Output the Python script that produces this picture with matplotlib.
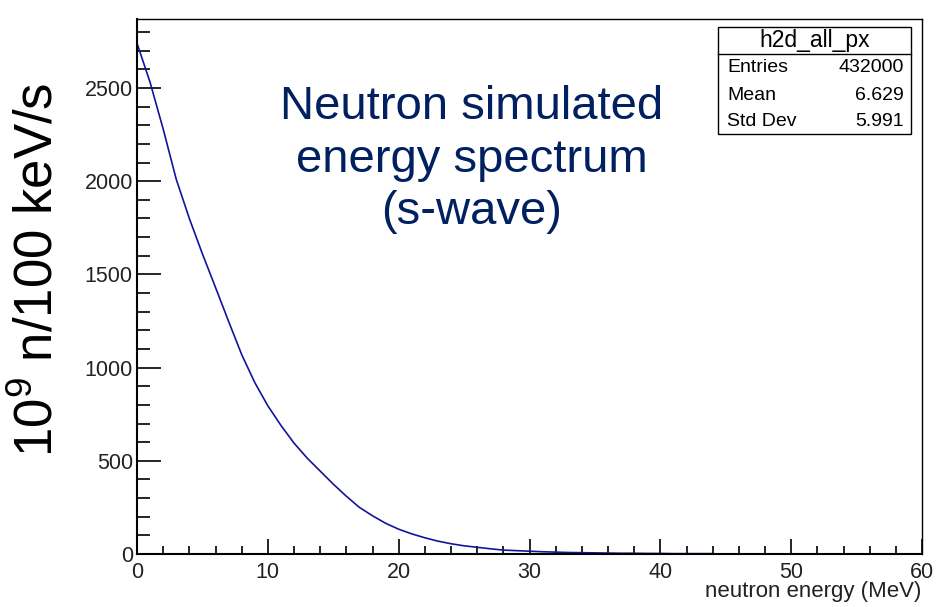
import matplotlib
matplotlib.use('Agg')
import matplotlib.pyplot as plt
from matplotlib.patches import Rectangle
from matplotlib.lines import Line2D
from matplotlib.ticker import MultipleLocator

plt.rcParams['font.family'] = ['Liberation Sans', 'DejaVu Sans']
plt.rcParams['mathtext.default'] = 'regular'

# histogram contents (1 MeV spacing, per 100 keV bin)
energy_mev = list(range(0, 45))
counts = [2740, 2530, 2280, 2010, 1800, 1610, 1430, 1248, 1070, 920,
          795, 690, 595, 515, 445, 375, 310, 250, 205, 165,
          133, 108, 87, 69, 55, 44, 36, 28, 21, 18,
          15, 12, 10, 8, 7, 6, 5, 4, 4, 3,
          3, 2, 2, 2, 2]

stats_title = 'h2d_all_px'
stats_names = ['Entries', 'Mean', 'Std Dev']
stats_values = ['432000', '6.629', '5.991']

W, H = 936, 607
fig = plt.figure(figsize=(W / 100, H / 100), dpi=100)
fig.patch.set_facecolor('white')


def fx(px):
    return px / W


def fy(py):
    # py measured from the top of the picture
    return 1 - py / H


ax = fig.add_axes([fx(137), fy(554), fx(922) - fx(137), fy(19) - fy(554)])
ax.plot(energy_mev, counts, color='#14149a', lw=1.2)

ax.set_xlim(0, 60)
ax.set_ylim(0, 2870)
ax.xaxis.set_major_locator(MultipleLocator(10))
ax.xaxis.set_minor_locator(MultipleLocator(2))
ax.yaxis.set_major_locator(MultipleLocator(500))
ax.yaxis.set_minor_locator(MultipleLocator(100))
ax.tick_params(axis='x', which='major', direction='in', length=11, width=1.2,
               labelsize=15.5, pad=6, top=False, labelcolor='#222222')
ax.tick_params(axis='x', which='minor', direction='in', length=5.5, width=1.2, top=False)
ax.tick_params(axis='y', which='major', direction='in', length=17, width=1.2,
               labelsize=15.5, pad=3, right=False, labelcolor='#222222')
ax.tick_params(axis='y', which='minor', direction='in', length=9, width=1.2, right=False)
for side in ['left', 'bottom']:
    ax.spines[side].set_linewidth(1.5)
for side in ['top', 'right']:
    ax.spines[side].set_linewidth(1.0)

# x axis title, right aligned (ROOT style)
fig.text(fx(921), fy(592), 'neutron energy (MeV)', ha='right', va='center',
         fontsize=16, color='#222222')

# y axis title
fig.text(fx(38), fy(270), r'10$^{9}$ n/100 keV/s', rotation=90,
         ha='center', va='center', fontsize=38, color='black')

# annotation text
fig.text(fx(472), fy(160), 'Neutron simulated\nenergy spectrum\n(s-wave)',
         ha='center', va='center', fontsize=34, color='#002060', linespacing=1.25)

# stats box
bx0, bx1, by0, by1, bsep = 718, 911, 27, 134, 54
fig.patches.append(Rectangle((fx(bx0), fy(by1)), fx(bx1) - fx(bx0), fy(by0) - fy(by1),
                             transform=fig.transFigure, facecolor='white',
                             edgecolor='black', lw=1.0, zorder=5))
fig.lines.append(Line2D([fx(bx0), fx(bx1)], [fy(bsep), fy(bsep)],
                        transform=fig.transFigure, color='black', lw=1.0, zorder=6))
fig.text(fx((bx0 + bx1) / 2), fy(40), stats_title, ha='center', va='center',
         fontsize=16.5, zorder=7)
row_y = [68, 95, 121]
for name, val, ry in zip(stats_names, stats_values, row_y):
    fig.text(fx(727), fy(ry), name, ha='left', va='center', fontsize=14, zorder=7)
    fig.text(fx(904), fy(ry), val, ha='right', va='center', fontsize=14, zorder=7)

fig.savefig('out.png', dpi=100, facecolor='white')
